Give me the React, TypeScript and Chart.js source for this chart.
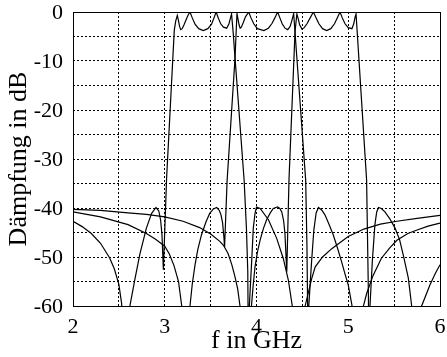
import React, { useEffect, useRef } from 'react';
import { Chart, registerables } from 'chart.js';

Chart.register(...registerables);

// Kanal 1 (3.1 – 3.75 GHz)
const ch1Freq = [
  2.0, 2.1, 2.2, 2.3, 2.4, 2.45, 2.5, 2.53, 2.575, 2.62, 2.676, 2.73, 2.8, 2.857, 2.905, 2.935, 2.955, 2.97, 2.985,
  3.02, 3.104, 3.12, 3.137, 3.15, 3.162, 3.174, 3.19, 3.21, 3.235, 3.255, 3.275, 3.3, 3.33, 3.37, 3.42, 3.47, 3.51,
  3.535, 3.56, 3.585, 3.61, 3.64, 3.675, 3.7, 3.715, 3.728, 3.745, 3.766, 3.865, 3.89, 3.905, 3.915, 3.922, 3.947,
  3.965, 3.984, 4.0, 4.04, 4.13, 4.22, 4.292, 4.347, 4.39, 4.46, 4.53, 4.6, 4.64, 4.72, 4.82, 5.0, 5.17, 5.35, 5.53,
  5.75, 6.0,
];
const ch1Db = [
  -42.7, -43.8, -45.2, -47.2, -50.2, -52.4, -55.6, -59.5, -80, -60, -54.4, -49.3, -44.1, -41.1, -39.9, -40.6, -42.5, -45.5, -52.6,
  -34, -3.7, -1.8, -0.7, -1.8, -3.0, -3.6, -3.4, -2.6, -1.5, -0.6, 0, -1.2, -2.5, -3.4, -3.8, -3.4, -2.5,
  -1.3, 0, -1.3, -2.4, -3.1, -3.3, -2.4, -1.3, -0.4, -4, -9.4, -34.3, -44, -53, -80, -60, -51,
  -44.1, -41.1, -39.8, -40.1, -42.4, -46.2, -50.3, -54.7, -60, -80, -60, -54.5, -52, -50, -48.3, -45.8, -44.3, -43.3, -42.7,
  -42.1, -41.5,
];

// Kanal 2 (3.79 – 4.41 GHz)
const ch2Freq = [
  2.0, 2.3, 2.6, 2.8, 2.9, 3.0, 3.05, 3.1, 3.15, 3.185, 3.23, 3.275, 3.3, 3.33, 3.36, 3.4, 3.45, 3.49, 3.53, 3.566,
  3.595, 3.613, 3.63, 3.645, 3.652, 3.68, 3.766, 3.787, 3.8, 3.81, 3.822, 3.835, 3.855, 3.88, 3.915, 3.94, 3.97,
  4.01, 4.08, 4.13, 4.17, 4.2, 4.23, 4.255, 4.28, 4.31, 4.34, 4.365, 4.385, 4.405, 4.44, 4.536, 4.55, 4.557, 4.563,
  4.57, 4.6, 4.625, 4.65, 4.675, 4.71, 4.746, 4.79, 4.837, 4.88, 4.928, 4.965, 5.0, 5.04, 5.1, 5.165, 5.2, 5.27,
  5.36, 5.45, 5.53, 5.65, 5.75, 5.87, 6.0,
];
const ch2Db = [
  -40.8, -41.8, -43.4, -45.2, -46.4, -47.8, -49.4, -51.7, -55, -60, -80, -60, -55.5, -51.6, -48.5, -45.5, -42.8, -41.1, -40.2, -39.9,
  -40.5, -41.4, -43, -46, -48, -34.3, -9.4, -0.3, -1.6, -2.6, -3.3, -3.1, -2.2, -1.0, 0, -1.2, -2.4,
  -3.4, -3.8, -3.3, -2.3, -1.2, 0, -1.2, -2.4, -3.3, -3.6, -3.0, -1.8, -0.3, -9.4, -34.3, -48, -60, -80,
  -60, -51, -44.5, -41, -39.9, -40.4, -41.4, -43.3, -45.5, -48, -51, -53.5, -55.7, -59.8, -80, -60, -57.5, -53.8,
  -50.3, -48.2, -46.6, -45.2, -44.5, -43.7, -43.1,
];

// Kanal 3 (4.44 – 5.09 GHz)
const ch3Freq = [
  2.0, 2.3, 2.6, 2.8, 3.0, 3.2, 3.38, 3.5, 3.6, 3.64, 3.69, 3.73, 3.765, 3.795, 3.82, 3.885, 3.945, 3.965, 3.984,
  4.01, 4.04, 4.075, 4.11, 4.15, 4.183, 4.23, 4.255, 4.275, 4.295, 4.31, 4.33, 4.354, 4.42, 4.44, 4.455, 4.47,
  4.496, 4.52, 4.55, 4.585, 4.62, 4.65, 4.68, 4.72, 4.765, 4.81, 4.85, 4.88, 4.91, 4.935, 4.965, 5.0, 5.04, 5.06,
  5.075, 5.085, 5.2, 5.21, 5.22, 5.228, 5.237, 5.262, 5.29, 5.31, 5.33, 5.36, 5.4, 5.45, 5.51, 5.56, 5.6, 5.655,
  5.69, 5.745, 5.8, 5.89, 5.95, 6.0,
];
const ch3Db = [
  -40.3, -40.5, -41.0, -41.3, -41.8, -42.7, -44.0, -45.3, -46.8, -47.6, -49.3, -51.5, -54, -56.5, -60, -80, -60, -55.5, -52,
  -49, -46.5, -44.2, -42.4, -41, -40.1, -39.8, -40.1, -40.8, -42.5, -45.2, -53, -34.3, -4, -0.4, -1.4, -2.6,
  -3.5, -3.2, -2.4, -1.2, 0, -1.2, -2.4, -3.4, -3.8, -3.4, -2.4, -1.2, 0, -1.2, -2.4, -3.2, -3.4, -2.4,
  -1.0, -0.4, -34.3, -46, -58, -80, -60, -51, -43.5, -40.8, -39.9, -40.1, -40.8, -42.1, -44.1, -46.5, -49.6, -54.3,
  -59.8, -80, -60, -55.7, -53.3, -51.6,
];

const xLabelValues = [2, 3, 4, 5, 6];
const yLabelValues = [0, -10, -20, -30, -40, -50, -60];
const xTitle = 'f in GHz';
const yTitle = 'Dämpfung in dB';

const FONT = "'Liberation Serif', 'DejaVu Serif', serif";

const framePlugin = {
  id: 'frame',
  afterDatasetsDraw(chart: any) {
    const { ctx, chartArea } = chart;
    const { left, top, right, bottom } = chartArea;
    ctx.save();
    ctx.strokeStyle = '#000';
    ctx.lineWidth = 1;
    ctx.setLineDash([]);
    ctx.strokeRect(Math.round(left) + 0.5, Math.round(top) + 0.5, Math.round(right - left), Math.round(bottom - top));
    ctx.restore();
  },
};

function makeSeries(freq: number[], db: number[]) {
  return {
    data: freq.map((f, i) => ({ x: f, y: db[i] })),
    borderColor: '#000',
    borderWidth: 1.2,
    pointRadius: 0,
    tension: 0,
    fill: false,
  };
}

function zeroPad(s: any) {
  s.paddingTop = 0;
  s.paddingBottom = 0;
  s.paddingLeft = 0;
  s.paddingRight = 0;
}

export default function App() {
  const ref = useRef<HTMLCanvasElement | null>(null);

  useEffect(() => {
    if (!ref.current) return;
    const chart = new Chart(ref.current, {
      type: 'line',
      data: {
        datasets: [makeSeries(ch1Freq, ch1Db), makeSeries(ch2Freq, ch2Db), makeSeries(ch3Freq, ch3Db)] as any,
      },
      options: {
        responsive: false,
        animation: false,
        events: [],
        layout: { padding: { top: 12, right: 7, left: 0, bottom: 0 } },
        plugins: { legend: { display: false }, tooltip: { enabled: false } },
        scales: {
          x: {
            type: 'linear',
            min: 2,
            max: 6,
            afterFit: (s: any) => { s.height = 51; zeroPad(s); },
            grid: { color: '#000', lineWidth: 1, drawTicks: false },
            border: { display: false, dash: [2, 2] },
            ticks: {
              stepSize: 0.5,
              autoSkip: false,
              maxRotation: 0,
              padding: 10,
              color: '#000',
              font: { family: FONT, size: 22, lineHeight: 1 },
              callback: (v: any) => (xLabelValues.includes(Number(v)) ? String(v) : ''),
            },
            title: {
              display: true,
              text: xTitle,
              color: '#000',
              font: { family: FONT, size: 26 },
              padding: { top: 0, bottom: 0 },
            },
          },
          y: {
            type: 'linear',
            min: -60,
            max: 0,
            afterFit: (s: any) => { s.width = 73; zeroPad(s); },
            grid: { color: '#000', lineWidth: 1, drawTicks: false },
            border: { display: false, dash: [2, 2] },
            ticks: {
              stepSize: 5,
              autoSkip: false,
              padding: 10,
              labelOffset: 1,
              color: '#000',
              font: { family: FONT, size: 22, lineHeight: 1 },
              callback: (v: any) => (yLabelValues.includes(Number(v)) ? String(v) : ''),
            },
            title: {
              display: true,
              text: yTitle,
              color: '#000',
              font: { family: FONT, size: 26 },
              padding: { top: 4, bottom: 0 },
            },
          },
        },
      } as any,
      plugins: [framePlugin],
    });
    return () => chart.destroy();
  }, []);

  return (
    <div style={{ position: 'absolute', left: 0, top: 0, width: 447, height: 357, background: '#fff' }}>
      <canvas ref={ref} width={447} height={357} style={{ display: 'block' }} />
    </div>
  );
}
